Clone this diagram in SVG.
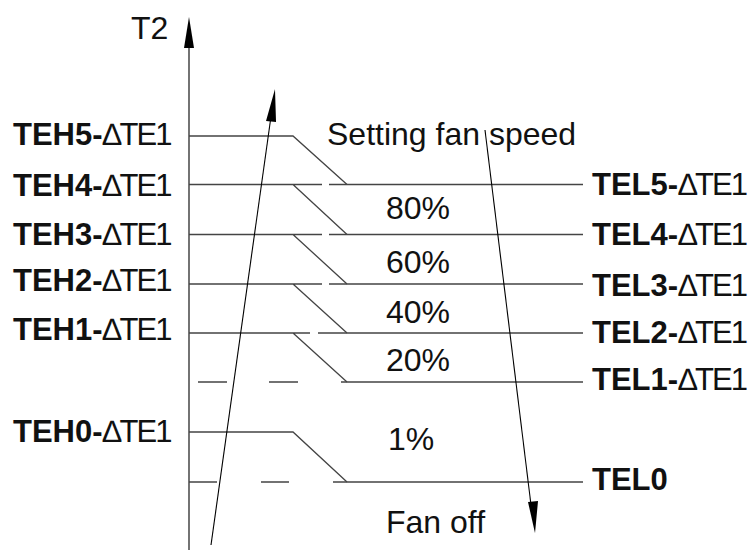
<svg xmlns="http://www.w3.org/2000/svg" width="754" height="550" viewBox="0 0 754 550">
<style>
.lv{stroke:#444;stroke-width:1.3;fill:none}
.ar{stroke:#000;stroke-width:1.1;fill:none}
.hd{fill:#000;stroke:none}
text{font-family:"Liberation Sans",Arial,sans-serif;fill:#111}
.t{font-size:32px}
.lb{font-size:31px}
.b{font-weight:bold}
.r{letter-spacing:-2px}
</style>
<rect width="754" height="550" fill="#fff"/>
<g id="axis">
<line class="ar" x1="189" y1="40" x2="189" y2="550"/>
<polygon class="hd" points="189,17 194,48 184,48"/>
<text class="t" x="131" y="39">T2</text>
</g>
<g id="connectors">
<polyline class="lv" points="189,136 293,136 347,184.5"/>
<path class="lv" d="M189,184.5H322M329,184.5H583M293,184.5L347,234.5"/>
<path class="lv" d="M189,234.5H322M329,234.5H583M293,234.5L347,284"/>
<path class="lv" d="M189,284H322M329,284H583M293,284L347,333"/>
<path class="lv" d="M189,333H310M318,333H583M293,333L347,382"/>
<path class="lv" d="M198,382H227M269,382H298M341,382H583"/>
<polyline class="lv" points="189,432 293,432 347,482"/>
<path class="lv" d="M189,482H217M261,482H289M333,482H583"/>
<line class="ar" x1="211" y1="545" x2="270.5" y2="120"/>
<polygon class="hd" points="275,89 276,122 266,121"/>
<line class="ar" x1="485" y1="130" x2="531" y2="505"/>
<polygon class="hd" points="535,533 528,502 538,501"/>
</g>
<g id="left-labels">
<text class="lb" x="13" y="145"><tspan class="b">TEH5-</tspan><tspan class="r">∆TE1</tspan></text>
<text class="lb" x="13" y="196"><tspan class="b">TEH4-</tspan><tspan class="r">∆TE1</tspan></text>
<text class="lb" x="13" y="245"><tspan class="b">TEH3-</tspan><tspan class="r">∆TE1</tspan></text>
<text class="lb" x="13" y="291"><tspan class="b">TEH2-</tspan><tspan class="r">∆TE1</tspan></text>
<text class="lb" x="13" y="340"><tspan class="b">TEH1-</tspan><tspan class="r">∆TE1</tspan></text>
<text class="lb" x="13" y="442"><tspan class="b">TEH0-</tspan><tspan class="r">∆TE1</tspan></text>
</g>
<g id="right-labels">
<text class="lb" x="592" y="195"><tspan class="b">TEL5-</tspan><tspan class="r">∆TE1</tspan></text>
<text class="lb" x="592" y="245"><tspan class="b">TEL4-</tspan><tspan class="r">∆TE1</tspan></text>
<text class="lb" x="592" y="296"><tspan class="b">TEL3-</tspan><tspan class="r">∆TE1</tspan></text>
<text class="lb" x="592" y="343"><tspan class="b">TEL2-</tspan><tspan class="r">∆TE1</tspan></text>
<text class="lb" x="592" y="390"><tspan class="b">TEL1-</tspan><tspan class="r">∆TE1</tspan></text>
<text class="lb b" x="592" y="490">TEL0</text>
</g>
<g id="speeds">
<text class="t" x="327" y="145">Setting fan speed</text>
<text class="t" x="386" y="219">80%</text>
<text class="t" x="386" y="273">60%</text>
<text class="t" x="386" y="323">40%</text>
<text class="t" x="386" y="371">20%</text>
<text class="t" x="388" y="450">1%</text>
<text class="t" x="386" y="533">Fan off</text>
</g>
</svg>
